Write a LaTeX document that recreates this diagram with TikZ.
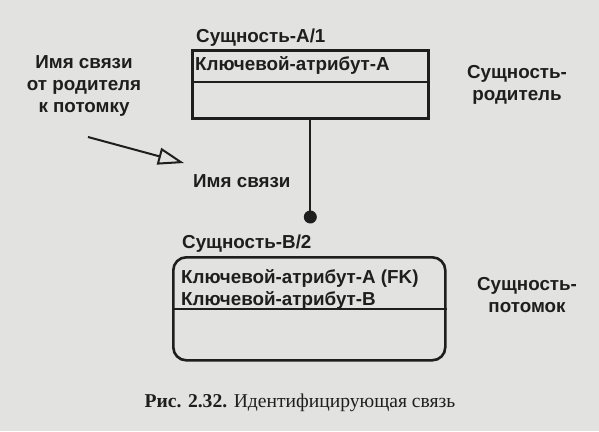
\documentclass[tikz,border=0pt]{standalone}
\usepackage{fontspec}
\setmainfont{Liberation Serif}
\newfontfamily\arialf{Liberation Sans}
\usetikzlibrary{arrows.meta}
\definecolor{paper}{RGB}{226,226,224}
\definecolor{ink}{RGB}{30,30,30}
\begin{document}
\begin{tikzpicture}[x=1pt,y=-1pt,
  lbl/.style={font=\arialf\bfseries\fontsize{18.8}{22}\selectfont, inner sep=0pt, text=ink},
  boxline/.style={draw=ink, line width=2.6pt},
  entbox/.style={boxline, inner sep=0pt, anchor=north west},
  capt/.style={font=\fontsize{19.6}{23}\selectfont, inner sep=0pt, text=ink}]
\fill[paper] (0,0) rectangle (599,431);
\useasboundingbox (0,0) rectangle (599,431);

% parent entity
\node[entbox, minimum width=236pt, minimum height=68pt] (A) at (191,49) {};
\draw[boxline] ([yshift=-33pt]A.north west) -- ([yshift=-33pt]A.north east);
\node[lbl, anchor=base west] (Atitle) at (196,42) {Сущность-А/1};
\node[lbl, anchor=base west] (Akey) at (195,70) {Ключевой-атрибут-А};
\node[lbl, align=center, anchor=base] (Arole) at (517,100) {Сущность-\\родитель};

% connector
\node[circle, fill=ink, minimum size=13pt, inner sep=0pt] (dot) at (A.south |- 0,217) {};
\draw[ink, line width=2pt] (A.south) -- (dot.center);

% relationship name labels
\node[lbl, align=center, anchor=base] (relname) at (84,112) {Имя связи\\от родителя\\к потомку};
\node[lbl, anchor=base west] (relmid) at (193,187) {Имя связи};
\coordinate (arrS) at (88,137);
\coordinate (arrE) at (184,163);
\draw[ink, line width=2pt, -{Triangle[open, length=26pt, width=17pt, line width=2pt]}] (arrS) -- (arrE);

% child entity
\node[entbox, rounded corners=13pt, minimum width=272pt, minimum height=103pt] (B) at (172,256) {};
\draw[boxline] ([yshift=-53pt]B.north west) -- ([yshift=-53pt]B.north east);
\node[lbl, anchor=base west] (Btitle) at (182,248) {Сущность-В/2};
\node[lbl, anchor=base west] (Bkey1) at (181,283) {Ключевой-атрибут-А (FK)};
\node[lbl, anchor=base west] (Bkey2) at (181,305) {Ключевой-атрибут-В};
\node[lbl, align=center, anchor=base] (Brole) at (527,312) {Сущность-\\потомок};

% caption
\node[capt, anchor=base] (cap) at (300,407) {\textbf{Рис. 2.32.} Идентифицирующая связь};
\end{tikzpicture}
\end{document}
